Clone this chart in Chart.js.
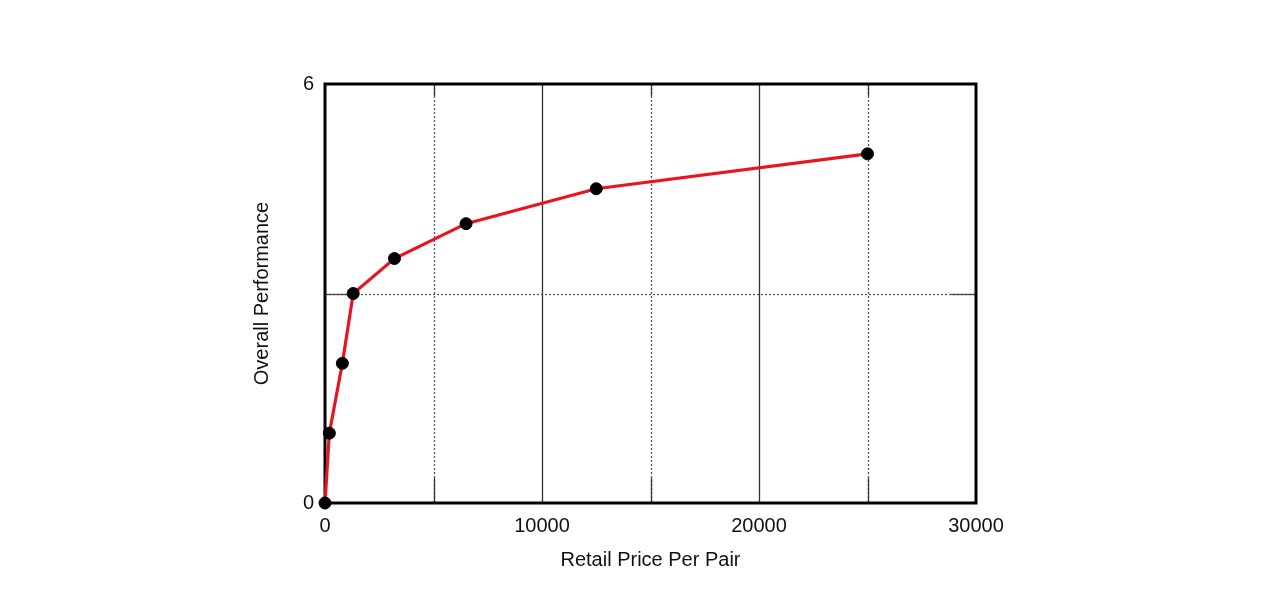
<!DOCTYPE html>
<html>
<head>
<meta charset="utf-8">
<script src="https://cdn.jsdelivr.net/npm/chart.js@4/dist/chart.umd.min.js"></script>
<style>
  html, body { margin: 0; padding: 0; background: #ffffff; }
  #wrap { width: 1280px; height: 600px; }
</style>
</head>
<body>
<div id="wrap"><canvas id="c" width="1280" height="600"></canvas></div>
<script>
// Data
const prices = [0, 200, 800, 1300, 3200, 6500, 12500, 25000];
const performance = [0, 1, 2, 3, 3.5, 4, 4.5, 5];
const xTickLabels = [0, 10000, 20000, 30000];
const yTickLabels = [0, 6];

const points = prices.map((p, i) => ({ x: p, y: performance[i] }));

Chart.defaults.font.family = '"Liberation Sans", Arial, sans-serif';
Chart.defaults.color = '#111111';

const gridPlugin = {
  id: 'customGrid',
  beforeDatasetsDraw(chart) {
    const { ctx, chartArea: a, scales } = chart;
    const xs = scales.x, ys = scales.y;
    ctx.save();
    // vertical lines
    xs.ticks.forEach(t => {
      const v = t.value;
      if (v <= xs.min || v >= xs.max) return;
      const px = Math.round(xs.getPixelForValue(v)) + 0.5;
      const major = xTickLabels.includes(v);
      ctx.lineWidth = 1.3;
      if (major) {
        ctx.strokeStyle = '#333333';
        ctx.setLineDash([]);
        ctx.beginPath(); ctx.moveTo(px, a.top); ctx.lineTo(px, a.bottom); ctx.stroke();
      } else {
        ctx.strokeStyle = '#555555';
        ctx.setLineDash([2, 2]);
        ctx.beginPath(); ctx.moveTo(px, a.top); ctx.lineTo(px, a.bottom); ctx.stroke();
        ctx.setLineDash([]);
        ctx.strokeStyle = '#333333';
        ctx.beginPath(); ctx.moveTo(px, a.bottom); ctx.lineTo(px, a.bottom - 25); ctx.stroke();
        ctx.beginPath(); ctx.moveTo(px, a.top); ctx.lineTo(px, a.top + 12); ctx.stroke();
      }
    });
    // horizontal lines
    ys.ticks.forEach(t => {
      const v = t.value;
      if (v <= ys.min || v >= ys.max) return;
      const py = Math.round(ys.getPixelForValue(v)) + 0.5;
      ctx.lineWidth = 1.3;
      ctx.strokeStyle = '#555555';
      ctx.setLineDash([2, 2]);
      ctx.beginPath(); ctx.moveTo(a.left, py); ctx.lineTo(a.right, py); ctx.stroke();
      ctx.setLineDash([]);
      ctx.strokeStyle = '#444444';
      ctx.beginPath(); ctx.moveTo(a.left, py); ctx.lineTo(a.left + 25, py); ctx.stroke();
      ctx.beginPath(); ctx.moveTo(a.right, py); ctx.lineTo(a.right - 25, py); ctx.stroke();
    });
    // frame
    ctx.setLineDash([]);
    ctx.strokeStyle = '#000000';
    ctx.lineWidth = 3;
    ctx.strokeRect(a.left, a.top, a.right - a.left, a.bottom - a.top);
    ctx.restore();
  }
};

new Chart(document.getElementById('c'), {
  type: 'scatter',
  data: {
    datasets: [{
      data: points,
      showLine: true,
      borderColor: '#e8161c',
      borderWidth: 3.2,
      backgroundColor: '#000000',
      pointBackgroundColor: '#000000',
      pointBorderColor: '#000000',
      pointRadius: 6,
      pointBorderWidth: 1,
      tension: 0,
      clip: false
    }]
  },
  options: {
    responsive: false,
    devicePixelRatio: 1,
    animation: false,
    layout: { padding: { left: 250, right: 304, top: 84, bottom: 28 } },
    plugins: { legend: { display: false }, tooltip: { enabled: false } },
    scales: {
      x: {
        type: 'linear',
        min: 0, max: 30000,
        grid: { display: false, drawTicks: false },
        border: { display: false },
        ticks: {
          stepSize: 5000,
          padding: 11,
          font: { size: 20 },
          color: '#111111',
          maxRotation: 0,
          autoSkip: false,
          callback: v => xTickLabels.includes(v) ? String(v) : ''
        },
        title: { display: true, text: 'Retail Price Per Pair', font: { size: 20 }, color: '#111111', padding: 0 },
        afterFit(s) { s.height = 69; }
      },
      y: {
        type: 'linear',
        min: 0, max: 6,
        grid: { display: false, drawTicks: false },
        border: { display: false },
        ticks: {
          stepSize: 3,
          padding: 11,
          font: { size: 20 },
          color: '#111111',
          autoSkip: false,
          callback: v => yTickLabels.includes(v) ? String(v) : ''
        },
        title: { display: true, text: 'Overall Performance', font: { size: 20 }, color: '#111111', padding: 0 },
        afterFit(s) { s.width = 75; }
      }
    }
  },
  plugins: [gridPlugin]
});
</script>
</body>
</html>
